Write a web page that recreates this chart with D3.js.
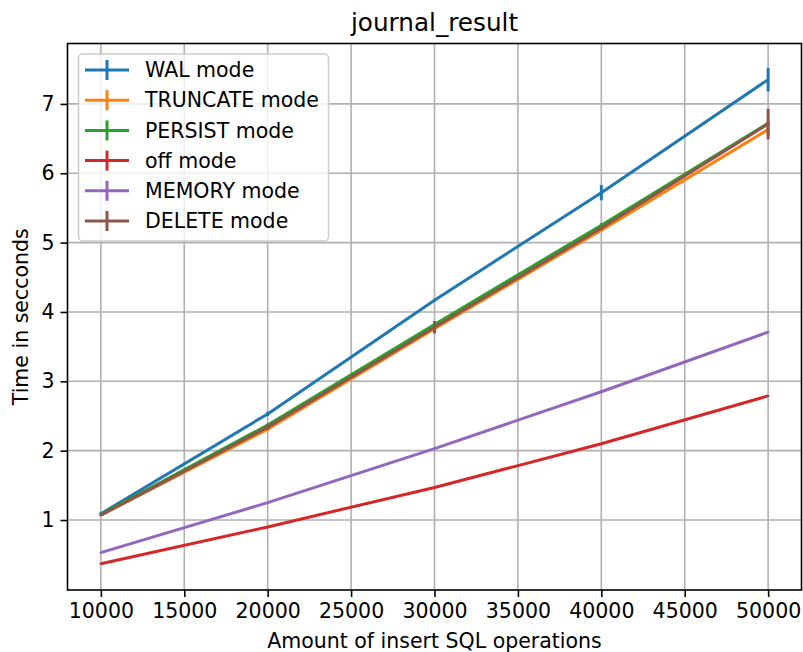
<!DOCTYPE html>
<html>
<head>
<meta charset="utf-8">
<script src="https://cdn.jsdelivr.net/npm/d3@7"></script>
<style>
  body { margin: 0; background: #fff; }
  text { font-family: "DejaVu Sans", sans-serif; fill: #000; }
</style>
</head>
<body>
<script>
'use strict';

// Data
var ops = [10000, 20000, 30000, 40000, 50000];
var xTicks = [10000, 15000, 20000, 25000, 30000, 35000, 40000, 45000, 50000];
var yTicks = [1, 2, 3, 4, 5, 6, 7];

var walTimes      = [1.09, 2.53, 4.17, 5.72, 7.35];
var walErr        = [0.02, 0.03, 0.02, 0.11, 0.17];
var truncateTimes = [1.07, 2.31, 3.76, 5.18, 6.63];
var truncateErr   = [0.01, 0.02, 0.02, 0.02, 0.08];
var persistTimes  = [1.08, 2.37, 3.82, 5.25, 6.72];
var persistErr    = [0.01, 0.02, 0.02, 0.03, 0.03];
var offTimes      = [0.37, 0.90, 1.47, 2.10, 2.79];
var offErr        = [0.01, 0.01, 0.01, 0.01, 0.01];
var memoryTimes   = [0.53, 1.25, 2.03, 2.85, 3.71];
var memoryErr     = [0.01, 0.01, 0.01, 0.02, 0.01];
var deleteTimes   = [1.07, 2.34, 3.78, 5.21, 6.71];
var deleteErr     = [0.01, 0.04, 0.09, 0.03, 0.22];

var seriesNames  = ["WAL mode", "TRUNCATE mode", "PERSIST mode", "off mode", "MEMORY mode", "DELETE mode"];
var seriesColors = ["#1f77b4", "#ff7f0e", "#2ca02c", "#d62728", "#9467bd", "#8c564b"];
var seriesTimes  = [walTimes, truncateTimes, persistTimes, offTimes, memoryTimes, deleteTimes];
var seriesErr    = [walErr, truncateErr, persistErr, offErr, memoryErr, deleteErr];

(function() {

  var width = 803, height = 652;
  var left = 67.5, right = 801.5, top = 43.5, bottom = 590;
  var fontSize = "20.5px";

  var svg = d3.select("body").append("svg")
      .attr("width", width)
      .attr("height", height);

  var x = d3.scaleLinear().domain([8000, 52000]).range([left, right]);
  var y = d3.scaleLinear().domain([-0.009, 7.871]).range([bottom, top]);

  // grid
  var grid = svg.append("g");
  grid.selectAll(".gx").data(xTicks).enter().append("line")
      .attr("x1", function(d) { return x(d); })
      .attr("x2", function(d) { return x(d); })
      .attr("y1", top).attr("y2", bottom)
      .attr("stroke", "#b0b0b0").attr("stroke-width", 1.6);
  grid.selectAll(".gy").data(yTicks).enter().append("line")
      .attr("y1", function(d) { return y(d); })
      .attr("y2", function(d) { return y(d); })
      .attr("x1", left).attr("x2", right)
      .attr("stroke", "#b0b0b0").attr("stroke-width", 1.6);

  // axes
  var xAxis = svg.append("g")
      .attr("transform", "translate(0," + bottom + ")")
      .call(d3.axisBottom(x).tickValues(xTicks).tickSize(7).tickPadding(6).tickFormat(d3.format("d")));
  var yAxis = svg.append("g")
      .attr("transform", "translate(" + left + ",0)")
      .call(d3.axisLeft(y).tickValues(yTicks).tickSize(7).tickPadding(6));
  [xAxis, yAxis].forEach(function(a) {
    a.select(".domain").remove();
    a.selectAll("line").attr("stroke", "#000").attr("stroke-width", 1.6);
    a.selectAll("text").style("font-size", fontSize).style("font-family", "DejaVu Sans");
  });

  // series
  var line = d3.line()
      .x(function(d) { return x(d[0]); })
      .y(function(d) { return y(d[1]); });

  var plot = svg.append("g");
  seriesTimes.forEach(function(times, i) {
    var pts = ops.map(function(o, j) { return [o, times[j], seriesErr[i][j]]; });
    var g = plot.append("g");
    g.append("path")
        .datum(pts)
        .attr("d", line)
        .attr("fill", "none")
        .attr("stroke", seriesColors[i])
        .attr("stroke-width", 3);
    g.selectAll("line").data(pts).enter().append("line")
        .attr("x1", function(d) { return x(d[0]); })
        .attr("x2", function(d) { return x(d[0]); })
        .attr("y1", function(d) { return y(d[1] - d[2]); })
        .attr("y2", function(d) { return y(d[1] + d[2]); })
        .attr("stroke", seriesColors[i])
        .attr("stroke-width", 3);
  });

  // frame
  svg.append("rect")
      .attr("x", left).attr("y", top)
      .attr("width", right - left).attr("height", bottom - top)
      .attr("fill", "none").attr("stroke", "#000").attr("stroke-width", 1.6);

  // legend
  var legend = svg.append("g").attr("transform", "translate(78.5,54)");
  legend.append("rect")
      .attr("width", 250).attr("height", 187)
      .attr("rx", 4)
      .attr("fill", "#fff").attr("fill-opacity", 0.8)
      .attr("stroke", "#cccccc").attr("stroke-width", 1.5);
  var rows = legend.selectAll(".row").data(seriesNames).enter().append("g")
      .attr("transform", function(d, i) { return "translate(0," + (16 + i * 30.2) + ")"; });
  rows.append("line")
      .attr("x1", 6.5).attr("x2", 50.5).attr("y1", 0).attr("y2", 0)
      .attr("stroke", function(d, i) { return seriesColors[i]; })
      .attr("stroke-width", 3);
  rows.append("line")
      .attr("x1", 28.5).attr("x2", 28.5).attr("y1", -10).attr("y2", 10)
      .attr("stroke", function(d, i) { return seriesColors[i]; })
      .attr("stroke-width", 3);
  rows.append("text")
      .attr("x", 66.5).attr("y", 0).attr("dy", "0.35em")
      .style("font-size", fontSize)
      .text(function(d) { return d; });

  // titles
  svg.append("text")
      .attr("x", (left + right) / 2).attr("y", 31)
      .attr("text-anchor", "middle")
      .style("font-size", "24.7px")
      .text("journal_result");
  svg.append("text")
      .attr("x", (left + right) / 2).attr("y", 648)
      .attr("text-anchor", "middle")
      .style("font-size", fontSize)
      .text("Amount of insert SQL operations");
  svg.append("text")
      .attr("transform", "translate(28," + ((top + bottom) / 2) + ") rotate(-90)")
      .attr("text-anchor", "middle")
      .style("font-size", fontSize)
      .text("Time in secconds");

})();
</script>
</body>
</html>
